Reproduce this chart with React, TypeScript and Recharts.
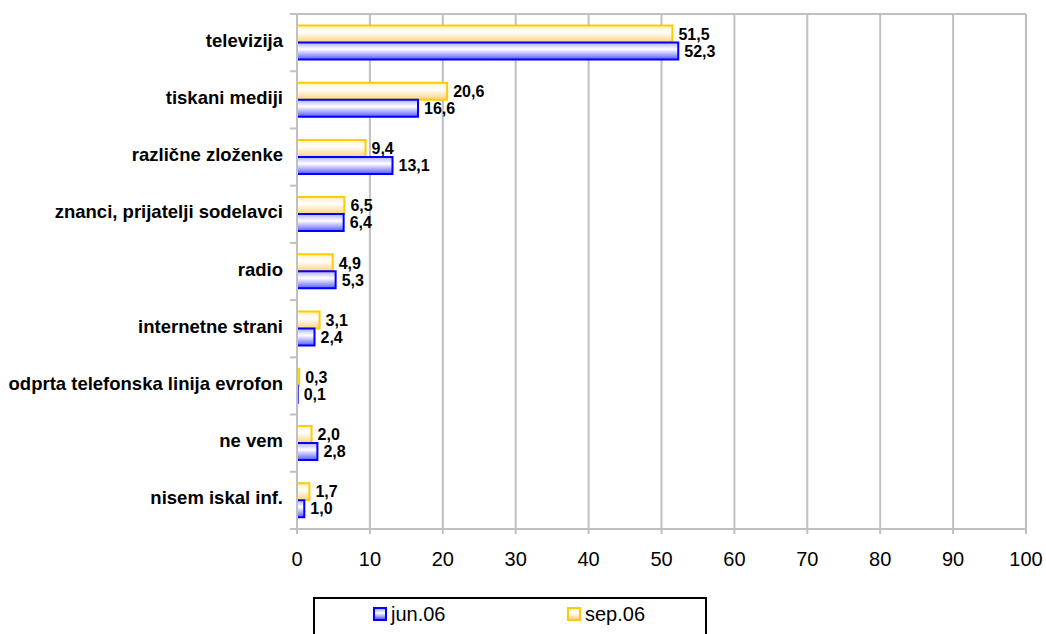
import React from "react";
import { Bar, BarChart, CartesianGrid, LabelList, XAxis, YAxis } from "recharts";

const categories = [
  "televizija",
  "tiskani mediji",
  "različne zloženke",
  "znanci, prijatelji sodelavci",
  "radio",
  "internetne strani",
  "odprta telefonska linija evrofon",
  "ne vem",
  "nisem iskal inf.",
];
const jun06 = [52.3, 16.6, 13.1, 6.4, 5.3, 2.4, 0.1, 2.8, 1.0];
const sep06 = [51.5, 20.6, 9.4, 6.5, 4.9, 3.1, 0.3, 2.0, 1.7];
const xTicks = [0, 10, 20, 30, 40, 50, 60, 70, 80, 90, 100];

const data = categories.map((name, i) => ({ name, jun: jun06[i], sep: sep06[i] }));

const W = 1046;
const H = 634;
const TOP = 14;
const BOTTOM = 529;
const LEFT = 297;
const RIGHT = 20;
const BAND = (BOTTOM - TOP) / categories.length;
const GRID = "#c0c0c0";
const FONT = "'Liberation Sans', Arial, sans-serif";

const fmt = (v: any) => Number(v).toFixed(1).replace(".", ",");

const CatTick = (props: any) => {
  const { x, y, payload, index } = props;
  const last = index === categories.length - 1;
  return (
    <g>
      <line x1={LEFT - 7} x2={LEFT} y1={y - BAND / 2} y2={y - BAND / 2} stroke={GRID} strokeWidth={2} />
      {last && (
        <line x1={LEFT - 7} x2={LEFT} y1={y + BAND / 2} y2={y + BAND / 2} stroke={GRID} strokeWidth={2} />
      )}
      <text
        x={x}
        y={y + 4}
        textAnchor="end"
        fontFamily={FONT}
        fontWeight="bold"
        fontSize={18.5}
        fill="#000"
      >
        {payload.value}
      </text>
    </g>
  );
};

const Swatch = ({ color, grad }: { color: string; grad: string }) => (
  <span
    style={{
      display: "inline-block",
      width: 10,
      height: 10,
      border: `2px solid ${color}`,
      background: grad,
      marginRight: 4,
      verticalAlign: "middle",
      position: "relative",
      top: -2,
    }}
  />
);

export default function App() {
  return (
    <div style={{ position: "absolute", left: 0, top: 0, width: W, height: H, overflow: "hidden", background: "#fff" }}>
      <BarChart
        width={W}
        height={H}
        data={data}
        layout="vertical"
        margin={{ top: TOP, right: RIGHT, left: 0, bottom: H - BOTTOM - 60 }}
        barCategoryGap="20%"
        barGap={0}
      >
        <defs>
          <linearGradient id="gBlue" x1="0" y1="0" x2="0" y2="1">
            <stop offset="0%" stopColor="#b0b0ff" />
            <stop offset="40%" stopColor="#ffffff" />
            <stop offset="100%" stopColor="#5a5aff" />
          </linearGradient>
          <linearGradient id="gYellow" x1="0" y1="0" x2="0" y2="1">
            <stop offset="0%" stopColor="#fff0c0" />
            <stop offset="40%" stopColor="#ffffff" />
            <stop offset="100%" stopColor="#ffd27a" />
          </linearGradient>
        </defs>
        <CartesianGrid
          stroke={GRID}
          strokeWidth={2}
          vertical={true}
          horizontal={true}
          horizontalPoints={[TOP]}
        />
        <XAxis
          type="number"
          domain={[0, 100]}
          ticks={xTicks}
          interval={0}
          height={60}
          stroke={GRID}
          strokeWidth={2}
          tickSize={5}
          tickMargin={18}
          tick={{ fill: "#000", fontSize: 20, fontFamily: FONT }}
        />
        <YAxis
          type="category"
          dataKey="name"
          width={LEFT}
          stroke={GRID}
          strokeWidth={2}
          tickLine={false}
          tickSize={6}
          tickMargin={8}
          interval={0}
          tick={<CatTick />}
        />
        <Bar dataKey="sep" name="sep.06" fill="url(#gYellow)" stroke="#ffcc00" strokeWidth={2} isAnimationActive={false}>
          <LabelList
            dataKey="sep"
            position="right"
            offset={6}
            formatter={fmt}
            style={{ fontFamily: FONT, fontWeight: "bold", fontSize: 16, fill: "#000" }}
          />
        </Bar>
        <Bar dataKey="jun" name="jun.06" fill="url(#gBlue)" stroke="#0000ff" strokeWidth={2} isAnimationActive={false}>
          <LabelList
            dataKey="jun"
            position="right"
            offset={6}
            formatter={fmt}
            style={{ fontFamily: FONT, fontWeight: "bold", fontSize: 16, fill: "#000" }}
          />
        </Bar>
      </BarChart>
      <div
        style={{
          position: "absolute",
          left: 313,
          top: 597,
          width: 390,
          height: 60,
          border: "2px solid #000",
          fontFamily: FONT,
          fontSize: 20,
          color: "#000",
        }}
      >
        <div style={{ position: "absolute", left: 58, top: 4, whiteSpace: "nowrap" }}>
          <Swatch color="#0000ff" grad="linear-gradient(#b0b0ff, #fff 40%, #5a5aff)" />
          jun.06
        </div>
        <div style={{ position: "absolute", left: 252, top: 4, whiteSpace: "nowrap" }}>
          <Swatch color="#ffcc00" grad="linear-gradient(#fff0c0, #fff 40%, #ffd27a)" />
          sep.06
        </div>
      </div>
    </div>
  );
}
